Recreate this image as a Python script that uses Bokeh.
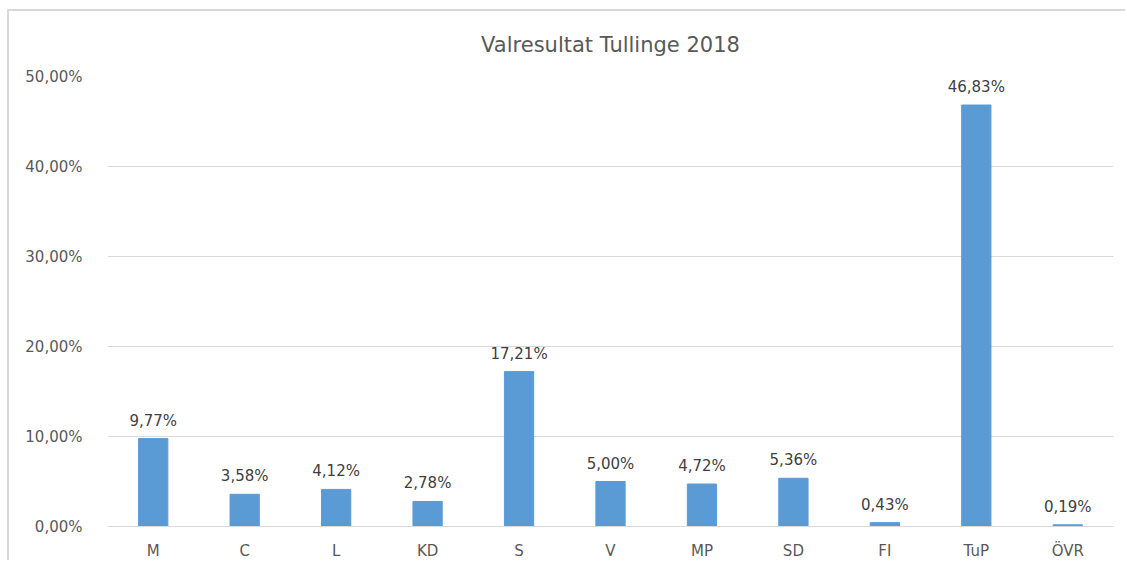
from bokeh.plotting import figure
from bokeh.models import ColumnDataSource, LabelSet, Range1d, FactorRange, CustomJSTickFormatter
from bokeh.core.properties import value
from bokeh.embed import file_html
from bokeh.resources import INLINE

parties = ["M", "C", "L", "KD", "S", "V", "MP", "SD", "FI", "TuP", "ÖVR"]
shares = [9.77, 3.58, 4.12, 2.78, 17.21, 5.00, 4.72, 5.36, 0.43, 46.83, 0.19]
label_texts = [f"{v:.2f}".replace(".", ",") + "%" for v in shares]
y_ticks = [0, 10, 20, 30, 40, 50]

FONT = "DejaVu Sans"
GREY = "#595959"

src = ColumnDataSource(dict(party=parties, share=shares, lab=label_texts))

p = figure(width=1118, height=551, x_range=FactorRange(*parties, range_padding=0),
           y_range=Range1d(0, 50), output_backend="svg", toolbar_location=None,
           title="Valresultat Tullinge 2018",
           min_border_left=98, min_border_right=14, min_border_top=65, min_border_bottom=30)
p.margin = (9, 0, 0, 7)
p.styles = {"border-left": "2px solid #d9d9d9", "border-top": "2px solid #d9d9d9"}

p.vbar(x="party", top="share", width=0.32, source=src, color="#5B9BD5")

p.add_layout(LabelSet(x="party", y="share", text="lab", source=src, y_offset=9,
                      text_align="center", text_baseline="bottom",
                      text_font=value(FONT), text_font_size=value("15px"), text_color="#404040"))

p.title.align = "center"
p.title.text_font = FONT
p.title.text_font_size = "21px"
p.title.text_font_style = "normal"
p.title.text_color = GREY
p.title.standoff = 39

p.outline_line_color = None
p.xgrid.grid_line_color = None
p.ygrid.grid_line_color = "#d9d9d9"
p.ygrid.ticker = y_ticks

p.yaxis.ticker = y_ticks
p.yaxis.formatter = CustomJSTickFormatter(code="return tick.toFixed(2).replace('.', ',') + '%';")
p.yaxis.axis_line_color = None
p.yaxis.major_tick_line_color = None
p.yaxis.minor_tick_line_color = None
p.yaxis.major_label_standoff = 19
p.yaxis.major_label_text_font = FONT
p.yaxis.major_label_text_font_size = "15px"
p.yaxis.major_label_text_color = GREY

p.xaxis.axis_line_color = "#d9d9d9"
p.xaxis.major_tick_line_color = None
p.xaxis.minor_tick_line_color = None
p.xaxis.major_label_standoff = 9
p.xaxis.major_label_text_font = FONT
p.xaxis.major_label_text_font_size = "15px"
p.xaxis.major_label_text_color = GREY

open("out.html", "w").write(file_html(p, INLINE))
